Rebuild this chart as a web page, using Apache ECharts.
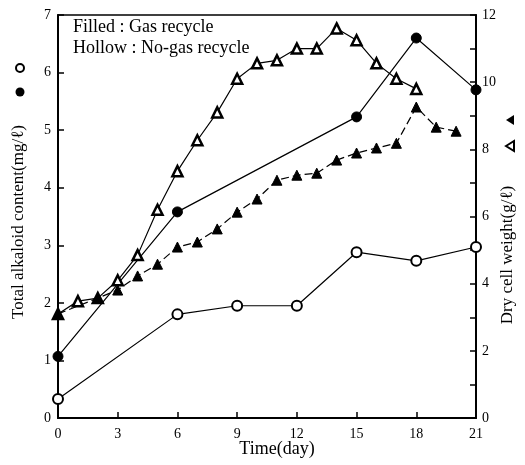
<!DOCTYPE html>
<html>
<head>
<meta charset="utf-8">
<script src="https://cdn.jsdelivr.net/npm/echarts@6/dist/echarts.min.js"></script>
<style>
  html, body { margin: 0; padding: 0; background: #fff; }
  #main { width: 525px; height: 465px; }
</style>
</head>
<body>
<div id="main"></div>
<script type="text/javascript">

// alkaloid content (mg/l), left axis
var alkNoGasDays = [0, 6, 9, 12, 15, 18, 21];
var alkNoGas     = [0.33, 1.80, 1.95, 1.95, 2.88, 2.73, 2.97];
var alkGasDays   = [0, 6, 15, 18, 21];
var alkGas       = [1.07, 3.58, 5.23, 6.60, 5.70];

// dry cell weight (g/l), right axis
var dcwNoGasDays = [0, 1, 2, 3, 4, 5, 6, 7, 8, 9, 10, 11, 12, 13, 14, 15, 16, 17, 18];
var dcwNoGas     = [3.1, 3.48, 3.57, 4.1, 4.85, 6.2, 7.35, 8.27, 9.1, 10.1, 10.56, 10.65, 11.0, 11.0, 11.6, 11.25, 10.56, 10.1, 9.8];
var dcwGasDays   = [0, 2, 3, 4, 5, 6, 7, 8, 9, 10, 11, 12, 13, 14, 15, 16, 17, 18, 19, 20];
var dcwGas       = [3.1, 3.57, 3.81, 4.23, 4.58, 5.09, 5.24, 5.63, 6.13, 6.52, 7.08, 7.23, 7.29, 7.68, 7.89, 8.04, 8.18, 9.26, 8.66, 8.54];

var xTicks = [0, 3, 6, 9, 12, 15, 18, 21];

function pairs(xs, ys) {
    return xs.map(function (x, i) { return [x, ys[i]]; });
}

var font = 'Liberation Serif, DejaVu Serif, serif';
var myChart = echarts.init(document.getElementById('main'));

var option = {
    animation: false,
    backgroundColor: '#fff',
    textStyle: { fontFamily: font, color: '#000' },
    grid: {
        left: 58, right: 49, top: 15, bottom: 47,
        show: true, borderColor: '#000', borderWidth: 1.5
    },
    xAxis: {
        type: 'value',
        min: xTicks[0],
        max: xTicks[xTicks.length - 1],
        interval: 3,
        axisLine: { lineStyle: { color: '#000', width: 2 } },
        axisTick: { inside: true, length: 6, lineStyle: { color: '#000', width: 1.5 } },
        axisLabel: { fontFamily: font, fontSize: 14, color: '#000', margin: 9 },
        splitLine: { show: false }
    },
    yAxis: [
        {
            type: 'value',
            min: 0, max: 7, interval: 1,
            position: 'left',
            axisLine: { show: true, lineStyle: { color: '#000', width: 2 } },
            axisTick: { show: true, inside: true, length: 6, lineStyle: { color: '#000', width: 1.5 } },
            axisLabel: { fontFamily: font, fontSize: 14, color: '#000', margin: 7 },
            splitLine: { show: false }
        },
        {
            type: 'value',
            min: 0, max: 12, interval: 1,
            position: 'right',
            axisLine: { show: true, lineStyle: { color: '#000', width: 2 } },
            axisTick: { show: true, inside: true, length: 6, lineStyle: { color: '#000', width: 1.5 } },
            axisLabel: {
                fontFamily: font, fontSize: 14, color: '#000', margin: 6,
                formatter: function (v) { return v % 2 === 0 ? v : ''; }
            },
            splitLine: { show: false }
        }
    ],
    graphic: [
        { type: 'text', x: 73, y: 27, style: { text: 'Filled : Gas recycle', font: '18px ' + font, fill: '#000', textVerticalAlign: 'middle' } },
        { type: 'text', x: 73, y: 48, style: { text: 'Hollow : No-gas recycle', font: '18px ' + font, fill: '#000', textVerticalAlign: 'middle' } },
        { type: 'text', x: 277, y: 449, style: { text: 'Time(day)', font: '18px ' + font, fill: '#000', textAlign: 'center', textVerticalAlign: 'middle' } },
        {
            type: 'text', x: 19, y: 222, rotation: Math.PI / 2,
            style: { text: 'Total alkaloid content(mg/\u2113)', font: '17px ' + font, fill: '#000',
                     textAlign: 'center', textVerticalAlign: 'middle' }
        },
        { type: 'circle', shape: { cx: 20, cy: 68, r: 4 }, style: { fill: '#fff', stroke: '#000', lineWidth: 2 } },
        { type: 'circle', shape: { cx: 20, cy: 92, r: 4.5 }, style: { fill: '#000' } },
        {
            type: 'text', x: 508, y: 255, rotation: Math.PI / 2,
            style: { text: 'Dry cell weight(g/\u2113)', font: '17px ' + font, fill: '#000',
                     textAlign: 'center', textVerticalAlign: 'middle' }
        },
        { type: 'polygon', shape: { points: [[506, 120], [514, 115], [514, 125]] }, style: { fill: '#000' } },
        { type: 'polygon', shape: { points: [[506, 146], [514, 141], [514, 151]] }, style: { fill: '#fff', stroke: '#000', lineWidth: 2 } }
    ],
    series: [
        {
            name: 'alkaloid no gas',
            type: 'line',
            yAxisIndex: 0,
            data: pairs(alkNoGasDays, alkNoGas),
            symbol: 'circle', symbolSize: 10,
            lineStyle: { color: '#000', width: 1.2 },
            itemStyle: { color: '#fff', borderColor: '#000', borderWidth: 2 }
        },
        {
            name: 'alkaloid gas',
            type: 'line',
            yAxisIndex: 0,
            data: pairs(alkGasDays, alkGas),
            symbol: 'circle', symbolSize: 10,
            lineStyle: { color: '#000', width: 1.2 },
            itemStyle: { color: '#000', borderColor: '#000', borderWidth: 1 }
        },
        {
            name: 'dcw no gas',
            type: 'line',
            yAxisIndex: 1,
            data: pairs(dcwNoGasDays, dcwNoGas),
            symbol: 'triangle', symbolSize: 10,
            lineStyle: { color: '#000', width: 1.2 },
            itemStyle: { color: '#fff', borderColor: '#000', borderWidth: 2.5 }
        },
        {
            name: 'dcw gas',
            type: 'line',
            yAxisIndex: 1,
            data: pairs(dcwGasDays, dcwGas),
            symbol: 'triangle', symbolSize: 10,
            lineStyle: { color: '#000', width: 1.2, type: [8, 4] },
            itemStyle: { color: '#000', borderColor: '#000', borderWidth: 1 }
        }
    ]
};

myChart.setOption(option);

</script>
</body>
</html>
